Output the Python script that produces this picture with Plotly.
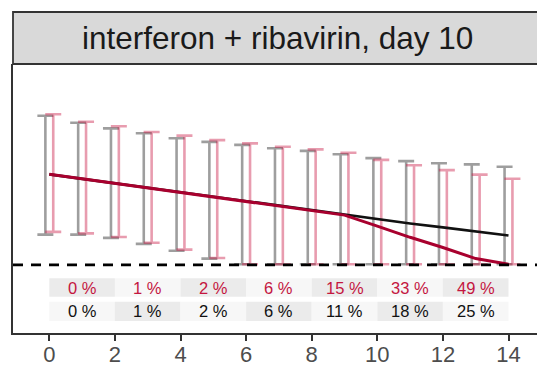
import plotly.graph_objects as go

# ---------------- data ----------------
days = list(range(15))
grey_upper = [4.95, 4.72, 4.53, 4.37, 4.20, 4.08, 3.98, 3.87, 3.78, 3.67, 3.54, 3.44, 3.37, 3.33, 3.25]
grey_lower = [0.99, 0.99, 0.88, 0.68, 0.45, 0.19, 0, 0, 0, 0, 0, 0, 0, 0, 0]
pink_upper = [5.00, 4.75, 4.60, 4.41, 4.29, 4.14, 4.03, 3.92, 3.83, 3.72, 3.48, 3.30, 3.14, 2.99, 2.85]
pink_lower = [1.08, 1.03, 0.91, 0.72, 0.49, 0.21, 0, 0, 0, 0, 0, 0, 0, 0, 0]
black_line = [3.00, 2.85, 2.70, 2.55, 2.40, 2.25, 2.10, 1.95, 1.80, 1.64, 1.49, 1.36, 1.23, 1.09, 0.96]
red_line = [3.00, 2.85, 2.70, 2.55, 2.40, 2.25, 2.10, 1.95, 1.80, 1.64, 1.27, 0.90, 0.56, 0.19, 0.0]
bin_starts = [0, 2, 4, 6, 8, 10, 12]
red_pct = ["0 %", "1 %", "2 %", "6 %", "15 %", "33 %", "49 %"]
black_pct = ["0 %", "1 %", "2 %", "6 %", "11 %", "18 %", "25 %"]
title = "interferon + ribavirin, day 10"
x_ticks = [0, 2, 4, 6, 8, 10, 12, 14]

# ---------------- style ----------------
RED_LINE = "#A8002E"
RED_TEXT = "#C4163F"
PINK = "rgba(200,20,65,0.42)"
GREY = "rgba(0,0,0,0.38)"
DARK_BOX = "#EBEBEB"
LIGHT_BOX = "#F7F7F7"
BORDER = "#333333"
DODGE = 0.12
BIN_W = 2
FONT = "Liberation Sans, Arial"

fig = go.Figure()

def errbar(xoff, lower, upper, color):
    mid = [(l + u) / 2 for l, u in zip(lower, upper)]
    half = [(u - l) / 2 for l, u in zip(lower, upper)]
    fig.add_trace(go.Scatter(
        x=[d + xoff for d in days], y=mid, mode="markers",
        marker=dict(size=1, color="rgba(0,0,0,0)"),
        error_y=dict(type="data", array=half, symmetric=True, color=color,
                     thickness=2.6, width=8),
        hoverinfo="skip", showlegend=False))

errbar(-DODGE, grey_lower, grey_upper, GREY)
errbar(DODGE, pink_lower, pink_upper, PINK)

fig.add_trace(go.Scatter(x=days, y=black_line, mode="lines",
                         line=dict(color="#111111", width=2.7), showlegend=False))
fig.add_trace(go.Scatter(x=days, y=red_line, mode="lines",
                         line=dict(color=RED_LINE, width=3), showlegend=False))

shapes = []
# dashed baseline
shapes.append(dict(type="line", xref="paper", yref="y", x0=0, x1=1, y0=-0.02, y1=-0.02,
                   line=dict(color="black", width=2.6, dash="10px,8px"), layer="above"))

RED_ROW = (-1.08, -0.467)
BLACK_ROW = (-1.89, -1.247)
for i, b in enumerate(bin_starts):
    shapes.append(dict(type="rect", xref="x", yref="y", x0=b, x1=b + BIN_W,
                       y0=RED_ROW[0], y1=RED_ROW[1], line=dict(width=0),
                       fillcolor=DARK_BOX if i % 2 == 0 else LIGHT_BOX, layer="below"))
    shapes.append(dict(type="rect", xref="x", yref="y", x0=b, x1=b + BIN_W,
                       y0=BLACK_ROW[0], y1=BLACK_ROW[1], line=dict(width=0),
                       fillcolor=LIGHT_BOX if i % 2 == 0 else DARK_BOX, layer="below"))

# strip
shapes.append(dict(type="rect", xref="paper", yref="paper", x0=0, x1=1.05,
                   y0=1, y1=1.1933, fillcolor="#D9D9D9",
                   line=dict(color=BORDER, width=1.8)))

annotations = []
for b, rt, bt in zip(bin_starts, red_pct, black_pct):
    annotations.append(dict(x=b + BIN_W / 2, y=sum(RED_ROW) / 2, xref="x", yref="y",
                            text=rt, showarrow=False,
                            font=dict(size=16.5, color=RED_TEXT, family=FONT)))
    annotations.append(dict(x=b + BIN_W / 2, y=sum(BLACK_ROW) / 2, xref="x", yref="y",
                            text=bt, showarrow=False,
                            font=dict(size=16.5, color="#111111", family=FONT)))
annotations.append(dict(x=0.505, y=1.0967, xref="paper", yref="paper", text=title,
                        showarrow=False, xanchor="center", yanchor="middle",
                        font=dict(size=31.5, color="#1A1A1A", family=FONT)))

fig.update_layout(
    width=537, height=368, autosize=False,
    margin=dict(l=13, r=0, t=64, b=35),
    paper_bgcolor="white", plot_bgcolor="white",
    shapes=shapes, annotations=annotations,
    font=dict(family=FONT),
    xaxis=dict(range=[-1.107, 14.869], tickvals=x_ticks, ticktext=[str(t) for t in x_ticks],
               showgrid=False, zeroline=False, showline=True, linecolor=BORDER, linewidth=1.8,
               ticks="outside", ticklen=6, tickwidth=1.8, tickcolor=BORDER, automargin=False,
               ticklabelstandoff=-5,
               tickfont=dict(size=22, color="#4D4D4D")),
    yaxis=dict(range=[-2.29, 6.677], showgrid=False, zeroline=False, showticklabels=False,
               showline=True, linecolor=BORDER, linewidth=1.8, ticks="", automargin=False),
)

fig.write_html("out.html")
